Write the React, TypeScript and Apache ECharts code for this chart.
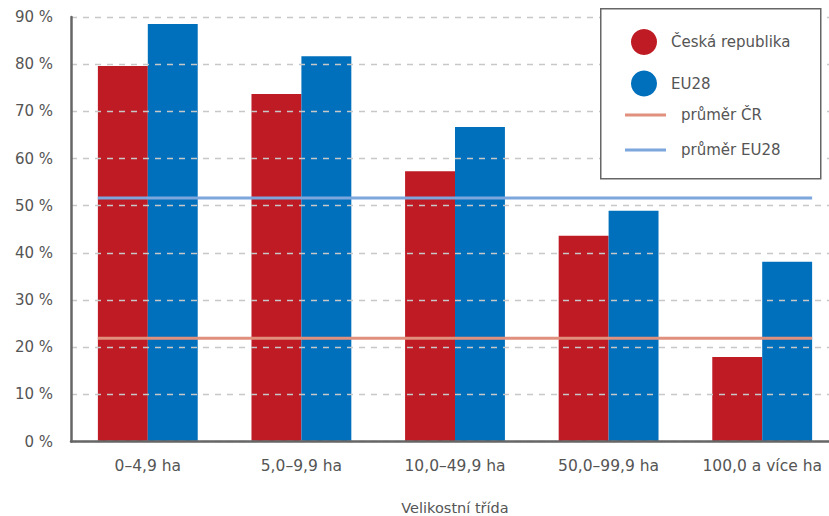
import React, { useEffect, useRef } from "react";
import * as echarts from "echarts";

const categories = ["0–4,9 ha", "5,0–9,9 ha", "10,0–49,9 ha", "50,0–99,9 ha", "100,0 a více ha"];
const czValues = [79.6, 73.7, 57.3, 43.6, 17.9];
const euValues = [88.5, 81.7, 66.7, 48.9, 38.1];
const avgCZ = 21.9;
const avgEU = 51.6;
const seriesNames = ["Česká republika", "EU28", "průměr ČR", "průměr EU28"];
const yTicks = { min: 0, max: 90, interval: 10 };
const axisName = "Velikostní třída";

const BAR_FRAC = 0.325; // each bar's share of a category band
const RED = "#BE1B24";
const BLUE = "#0070BC";
const LINE_CZ = "#E0907C";
const LINE_EU = "#7DA6DD";
const TEXT = "#555555";
const FONT = "'DejaVu Sans', sans-serif";

export default function App() {
  const ref = useRef<HTMLDivElement>(null);
  useEffect(() => {
    if (!ref.current) return;
    const chart = echarts.init(ref.current, null, { renderer: "svg" });
    const n = categories.length;
    const lineFrom = -BAR_FRAC;
    const lineTo = n - 1 + BAR_FRAC;
    chart.setOption({
      animation: false,
      textStyle: { fontFamily: FONT, color: TEXT },
      grid: {
        left: 71,
        right: -10,
        top: 17,
        bottom: 74.5,
        containLabel: false,
        outerBoundsMode: "none",
      },
      xAxis: [
        {
          type: "category",
          data: categories,
          axisLine: { show: true, onZero: false, lineStyle: { color: "#666", width: 2.5 } },
          axisTick: { show: false },
          axisLabel: { interval: 0, color: TEXT, fontSize: 15.5, margin: 16, fontFamily: FONT },
          name: axisName,
          nameLocation: "middle",
          nameGap: 59,
          nameTextStyle: { color: TEXT, fontSize: 14.5, fontFamily: FONT, lineHeight: 15 },
          z: 5,
        },
        {
          type: "value",
          min: -0.5,
          max: n - 0.5,
          show: false,
        },
      ],
      yAxis: {
        type: "value",
        min: yTicks.min,
        max: yTicks.max,
        interval: yTicks.interval,
        axisLine: { show: true, onZero: false, lineStyle: { color: "#666", width: 2.5 } },
        axisTick: { show: false },
        axisLabel: { formatter: "{value} %", color: TEXT, fontSize: 15, margin: 18, fontFamily: FONT },
        splitLine: { show: true, lineStyle: { color: "#c8c8c8", type: [6, 6], width: 1.3 } },
        z: 5,
      },
      legend: [
        {
          data: [seriesNames[0], seriesNames[1]],
          orient: "vertical",
          left: 626,
          top: 24,
          icon: "circle",
          itemWidth: 26,
          itemHeight: 26,
          itemGap: 15.5,
          textStyle: { color: TEXT, fontSize: 15, fontFamily: FONT, padding: [0, 0, 0, 9], lineHeight: 18 },
          z: 10,
        },
        {
          data: [seriesNames[2], seriesNames[3]],
          orient: "vertical",
          left: 620,
          top: 101,
          icon: "rect",
          itemWidth: 41,
          itemHeight: 3,
          itemGap: 17,
          textStyle: { color: TEXT, fontSize: 15, fontFamily: FONT, padding: [0, 0, 0, 10], lineHeight: 18 },
          z: 10,
        },
      ],
      graphic: [
        {
          type: "rect",
          left: 600,
          top: 8,
          shape: { width: 220, height: 170 },
          style: { fill: "#fff", stroke: "#666", lineWidth: 1.5 },
          z: 8,
        },
      ],
      series: [
        {
          name: seriesNames[0],
          type: "bar",
          data: czValues,
          barWidth: BAR_FRAC * 100 + "%",
          barGap: "0%",
          itemStyle: { color: RED },
        },
        {
          name: seriesNames[1],
          type: "bar",
          data: euValues,
          barWidth: BAR_FRAC * 100 + "%",
          barGap: "0%",
          itemStyle: { color: BLUE },
        },
        {
          name: seriesNames[2],
          type: "line",
          xAxisIndex: 1,
          data: [
            [lineFrom, avgCZ],
            [lineTo, avgCZ],
          ],
          symbol: "none",
          color: LINE_CZ,
          lineStyle: { color: LINE_CZ, width: 3 },
          itemStyle: { color: LINE_CZ },
          z: 3,
        },
        {
          name: seriesNames[3],
          type: "line",
          xAxisIndex: 1,
          data: [
            [lineFrom, avgEU],
            [lineTo, avgEU],
          ],
          symbol: "none",
          color: LINE_EU,
          lineStyle: { color: LINE_EU, width: 3 },
          itemStyle: { color: LINE_EU },
          z: 3,
        },
      ],
    });
    return () => chart.dispose();
  }, []);
  return (
    <div
      ref={ref}
      style={{ position: "absolute", left: 0, top: 0, width: 829, height: 516, background: "#fff" }}
    />
  );
}
